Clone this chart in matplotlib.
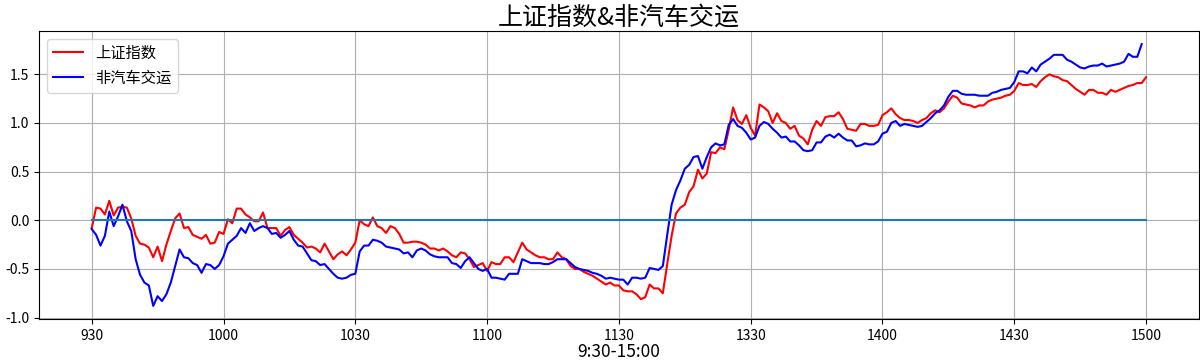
import matplotlib
matplotlib.use("Agg")
import matplotlib.pyplot as plt
import numpy as np

plt.rcParams['font.family'] = ['Noto Sans CJK SC', 'DejaVu Sans']
plt.rcParams['axes.unicode_minus'] = False

tick_labels = ['930', '1000', '1030', '1100', '1130', '1330', '1400', '1430', '1500']
tick_positions = [0, 30, 60, 90, 120, 150, 180, 210, 240]

sh_index = [
    -0.08, 0.13, 0.12, 0.06, 0.20, 0.05, 0.13, 0.14, 0.13, 0.02,
    -0.16, -0.24, -0.25, -0.28, -0.38, -0.27, -0.42, -0.25, -0.11, 0.02,
    0.07, -0.08, -0.07, -0.15, -0.17, -0.19, -0.15, -0.24, -0.23, -0.12,
    -0.14, 0.01, -0.03, 0.12, 0.12, 0.06, 0.03, -0.01, -0.01, 0.08,
    -0.08, -0.08, -0.08, -0.16, -0.10, -0.07, -0.15, -0.19, -0.23, -0.28,
    -0.27, -0.29, -0.33, -0.24, -0.32, -0.40, -0.35, -0.32, -0.36, -0.30,
    -0.23, 0.00, -0.04, -0.06, 0.03, -0.06, -0.08, -0.13, -0.06, -0.08,
    -0.14, -0.23, -0.23, -0.22, -0.22, -0.23, -0.25, -0.29, -0.29, -0.31,
    -0.29, -0.32, -0.36, -0.38, -0.33, -0.34, -0.40, -0.48, -0.46, -0.44,
    -0.52, -0.43, -0.45, -0.45, -0.38, -0.38, -0.43, -0.33, -0.23, -0.30,
    -0.33, -0.36, -0.38, -0.38, -0.40, -0.40, -0.33, -0.38, -0.40, -0.47,
    -0.50, -0.50, -0.53, -0.55, -0.57, -0.60, -0.63, -0.66, -0.64, -0.67,
    -0.67, -0.72, -0.73, -0.73, -0.76, -0.81, -0.79, -0.66, -0.70, -0.70,
    -0.75, -0.45, -0.16, 0.07, 0.13, 0.16, 0.29, 0.35, 0.52, 0.43,
    0.48, 0.70, 0.69, 0.75, 0.73, 0.93, 1.16, 1.03, 0.99, 1.08,
    0.95, 0.87, 1.19, 1.16, 1.12, 1.00, 1.10, 1.02, 1.00, 0.94,
    0.97, 0.87, 0.84, 0.78, 0.93, 1.02, 0.97, 1.06, 1.07, 1.07,
    1.11, 1.04, 0.94, 0.93, 0.92, 0.99, 0.99, 0.97, 0.97, 0.98,
    1.08, 1.11, 1.15, 1.09, 1.05, 1.03, 1.03, 1.02, 1.00, 1.03,
    1.05, 1.10, 1.13, 1.11, 1.15, 1.22, 1.28, 1.26, 1.20, 1.19,
    1.18, 1.16, 1.18, 1.18, 1.22, 1.24, 1.25, 1.26, 1.28, 1.29,
    1.33, 1.41, 1.39, 1.39, 1.40, 1.37, 1.43, 1.47, 1.50, 1.48,
    1.47, 1.44, 1.43, 1.39, 1.35, 1.32, 1.29, 1.34, 1.34, 1.31,
    1.31, 1.29, 1.34, 1.32, 1.34, 1.36, 1.38, 1.39, 1.41, 1.41,
    1.47,
]

non_auto = [
    -0.09, -0.15, -0.26, -0.16, 0.09, -0.06, 0.04, 0.16, -0.01, -0.11,
    -0.40, -0.56, -0.64, -0.67, -0.88, -0.78, -0.83, -0.76, -0.64, -0.47,
    -0.30, -0.38, -0.39, -0.44, -0.46, -0.54, -0.45, -0.46, -0.50, -0.46,
    -0.37, -0.24, -0.20, -0.16, -0.08, -0.13, -0.03, -0.11, -0.08, -0.06,
    -0.08, -0.14, -0.13, -0.18, -0.15, -0.11, -0.20, -0.26, -0.27, -0.34,
    -0.41, -0.42, -0.46, -0.45, -0.50, -0.55, -0.59, -0.60, -0.59, -0.56,
    -0.55, -0.32, -0.26, -0.26, -0.20, -0.21, -0.23, -0.27, -0.28, -0.29,
    -0.30, -0.34, -0.33, -0.38, -0.31, -0.29, -0.31, -0.35, -0.37, -0.38,
    -0.38, -0.38, -0.44, -0.45, -0.49, -0.42, -0.38, -0.44, -0.50, -0.52,
    -0.50, -0.59, -0.59, -0.60, -0.61, -0.55, -0.55, -0.55, -0.40, -0.42,
    -0.44, -0.44, -0.44, -0.45, -0.45, -0.43, -0.40, -0.40, -0.40, -0.44,
    -0.48, -0.50, -0.51, -0.52, -0.54, -0.55, -0.57, -0.60, -0.59, -0.60,
    -0.61, -0.61, -0.66, -0.59, -0.59, -0.60, -0.59, -0.49, -0.50, -0.51,
    -0.47, -0.15, 0.16, 0.31, 0.41, 0.53, 0.57, 0.65, 0.66, 0.53,
    0.65, 0.75, 0.79, 0.77, 0.78, 0.98, 1.04, 0.97, 0.95, 0.90,
    0.83, 0.85, 0.97, 1.01, 0.99, 0.94, 0.90, 0.85, 0.86, 0.81,
    0.81, 0.77, 0.72, 0.71, 0.72, 0.80, 0.80, 0.86, 0.88, 0.85,
    0.89, 0.85, 0.82, 0.82, 0.76, 0.77, 0.79, 0.78, 0.78, 0.81,
    0.89, 0.91, 1.00, 1.02, 0.97, 0.99, 0.98, 0.97, 0.96, 0.97,
    1.01, 1.05, 1.10, 1.13, 1.18, 1.27, 1.33, 1.33, 1.30, 1.29,
    1.29, 1.29, 1.28, 1.28, 1.28, 1.31, 1.32, 1.34, 1.35, 1.36,
    1.42, 1.53, 1.53, 1.51, 1.57, 1.53, 1.60, 1.63, 1.66, 1.70,
    1.70, 1.70, 1.65, 1.63, 1.60, 1.57, 1.56, 1.58, 1.59, 1.59,
    1.61, 1.58, 1.59, 1.60, 1.61, 1.63, 1.71, 1.68, 1.68, 1.81,
]

baseline = [0.0] * len(sh_index)

fig = plt.figure(figsize=(12, 3.61), dpi=100)
ax = fig.add_axes([0.0325, 0.1163, 0.9665, 0.7977])

ax.plot(range(len(sh_index)), sh_index, color='red', label='上证指数')
ax.plot(range(len(non_auto)), non_auto, color='blue', label='非汽车交运')
ax.plot(range(len(baseline)), baseline)

ax.set_xticks(tick_positions)
ax.set_xticklabels(tick_labels)
ax.grid(True)
ax.legend(loc='upper left', fontsize=11)
ax.set_title('上证指数&非汽车交运', fontsize=18, pad=4)
ax.set_xlabel('9:30-15:00', fontsize=12.5, labelpad=0)
ax.tick_params(labelsize=10)

fig.savefig('out.png', dpi=100)
